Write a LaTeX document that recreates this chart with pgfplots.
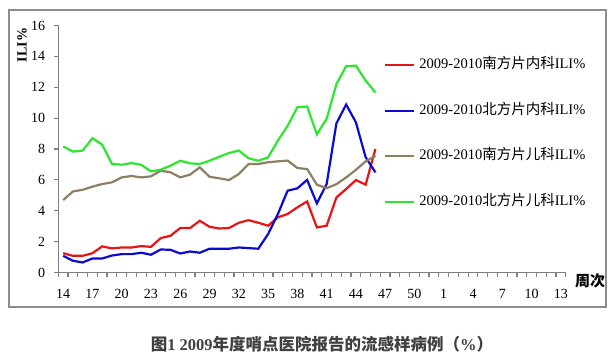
\documentclass[border=0pt]{standalone}
\usepackage{fontspec}
\setmainfont{Liberation Serif}
\newfontfamily\cjk{Noto Sans CJK SC}
\usepackage{pgfplots}
\pgfplotsset{compat=1.18}
\definecolor{sred}{RGB}{230,20,20}
\definecolor{nblue}{RGB}{10,10,210}
\definecolor{sbrown}{RGB}{140,128,100}
\definecolor{ngreen}{RGB}{45,230,45}
\begin{document}
\begin{tikzpicture}
\path (0bp,0bp) rectangle (615bp,357bp);
\draw[black!45, line width=2bp] (9bp,50bp) rectangle (606bp,347bp);
\begin{axis}[
  at={(58.3bp,84.5bp)}, anchor=south west,
  scale only axis, width=507.4bp, height=247bp,
  xmin=-0.5, xmax=51.5, ymin=0, ymax=16,
  axis x line*=bottom, axis y line*=left,
  axis line style={black!50, line width=1bp},
  xtick pos=bottom, ytick pos=left,
  tick align=outside,
  tick style={black!50, line width=1.2bp},
  major tick length=4.5bp, minor tick length=4.5bp,
  xtick={0,3,...,51},
  xticklabels={14,17,20,23,26,29,32,35,38,41,44,47,50,1,4,7,10,13},
  minor xtick={-0.5,0.5,...,51.5},
  major x tick style={draw=none},
  xticklabel style={inner sep=0pt, yshift=-12bp, font=\fontsize{14bp}{16bp}\selectfont},
  ytick={0,2,...,16},
  yticklabel style={inner sep=0pt, xshift=-8.5bp, font=\fontsize{14bp}{16bp}\selectfont},
  /pgf/number format/assume math mode=true,
  clip=false,
  legend style={at={(0.642,0.866)}, anchor=north west, draw=none, fill=none,
    inner sep=0pt, row sep=32.5bp, column sep=4bp,
    font=\fontsize{14.5bp}{16bp}\selectfont,
    nodes={inner sep=0pt, text height=10bp, text depth=3bp}},
  legend cell align=left,
  legend image code/.code={\draw[#1, line width=2.2bp] (0bp,0bp) -- (29bp,0bp);},
]
\addplot[sred, line width=2.2bp] coordinates {
(0,1.25)(1,1.08)(2,1.08)(3,1.25)(4,1.69)(5,1.56)(6,1.62)(7,1.62)(8,1.71)(9,1.66)
(10,2.23)(11,2.38)(12,2.88)(13,2.88)(14,3.35)(15,2.96)(16,2.85)(17,2.88)(18,3.22)(19,3.39)
(20,3.22)(21,3.03)(22,3.57)(23,3.79)(24,4.22)(25,4.6)(26,2.92)(27,3.03)(28,4.86)(29,5.41)
(30,5.99)(31,5.69)(32,8.0)};
\addlegendentry{2009-2010{\cjk 南方片内科}ILI\%}
\addplot[nblue, line width=2.2bp] coordinates {
(0,1.08)(1,0.76)(2,0.65)(3,0.91)(4,0.91)(5,1.1)(6,1.19)(7,1.19)(8,1.28)(9,1.15)
(10,1.49)(11,1.47)(12,1.23)(13,1.36)(14,1.28)(15,1.54)(16,1.54)(17,1.54)(18,1.62)(19,1.58)
(20,1.54)(21,2.49)(22,3.78)(23,5.3)(24,5.45)(25,6.0)(26,4.48)(27,5.73)(28,9.66)(29,10.88)
(30,9.73)(31,7.46)(32,6.49)};
\addlegendentry{2009-2010{\cjk 北方片内科}ILI\%}
\addplot[sbrown, line width=2.2bp] coordinates {
(0,4.69)(1,5.25)(2,5.36)(3,5.56)(4,5.73)(5,5.84)(6,6.16)(7,6.25)(8,6.16)(9,6.23)
(10,6.59)(11,6.49)(12,6.16)(13,6.34)(14,6.81)(15,6.2)(16,6.1)(17,5.99)(18,6.38)(19,7.03)
(20,7.03)(21,7.14)(22,7.2)(23,7.25)(24,6.77)(25,6.7)(26,5.69)(27,5.46)(28,5.72)(29,6.16)
(30,6.65)(31,7.2)(32,7.55)};
\addlegendentry{2009-2010{\cjk 南方片儿科}ILI\%}
\addplot[ngreen, line width=2.2bp] coordinates {
(0,8.17)(1,7.83)(2,7.9)(3,8.7)(4,8.28)(5,7.03)(6,6.98)(7,7.09)(8,6.98)(9,6.55)
(10,6.66)(11,6.92)(12,7.24)(13,7.07)(14,7.03)(15,7.24)(16,7.5)(17,7.74)(18,7.9)(19,7.4)
(20,7.24)(21,7.46)(22,8.54)(23,9.5)(24,10.7)(25,10.75)(26,8.95)(27,9.95)(28,12.2)(29,13.36)
(30,13.4)(31,12.43)(32,11.67)};
\addlegendentry{2009-2010{\cjk 北方片儿科}ILI\%}
\end{axis}
\node[rotate=90, inner sep=0pt, font=\fontsize{14bp}{16bp}\selectfont\bfseries] at (22bp,312bp) {ILI\%};
\node[inner sep=0pt, font=\fontsize{15bp}{17bp}\selectfont\bfseries] at (590bp,76bp) {\cjk 周次};
\node[inner sep=0pt, text=black!75, font=\fontsize{16.5bp}{18bp}\selectfont\bfseries] at (322bp,13bp) {{\cjk 图}1 2009{\cjk 年度哨点医院报告的流感样病例（}\%{\cjk ）}};
\end{tikzpicture}
\end{document}
